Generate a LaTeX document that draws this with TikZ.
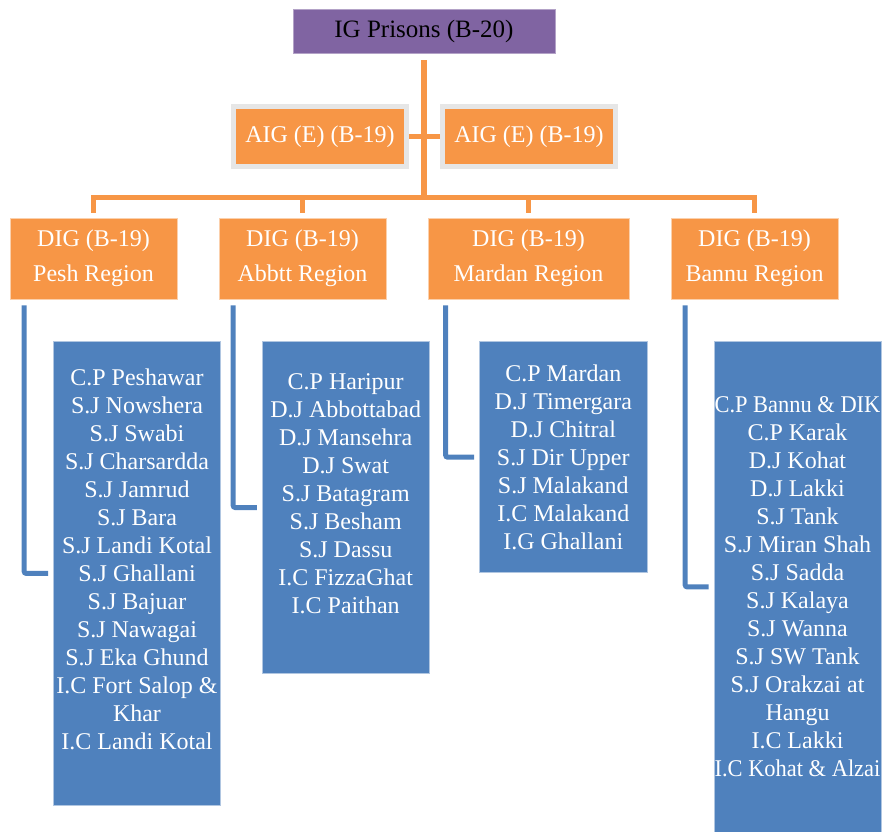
\documentclass[tikz,border=0pt]{standalone}
\usepackage{fontspec}
\setmainfont{Liberation Serif}
\usepackage{graphicx}
\usepackage{tikz}
\usetikzlibrary{
  positioning
}
\definecolor{chiefpurple}{HTML}{8064A2}
\definecolor{deputyorange}{HTML}{F79646}
\definecolor{jailblue}{HTML}{4F81BD}
\definecolor{framegray}{HTML}{E6E6E6}

\begin{document}
\begin{tikzpicture}[
      x=1pt, y=-1pt,
      chief/.style={
         rectangle,
         fill=chiefpurple,
         draw=chiefpurple!60!white, line width=0.6pt,
         minimum width=262pt, minimum height=44pt,
         inner sep=0pt,
         font=\fontsize{25}{30}\selectfont, text=black
      },
      deputy/.style={
         rectangle,
         fill=deputyorange,
         draw=framegray, line width=5pt,
         minimum width=172.7pt, minimum height=59.7pt,
         inner sep=0pt,
         font=\fontsize{24}{28}\selectfont, text=white
      },
      region/.style={
         rectangle,
         fill=deputyorange,
         draw=deputyorange!45!white, line width=0.6pt,
         minimum width=167pt, minimum height=81pt,
         inner sep=0pt, align=center,
         font=\fontsize{24}{35}\selectfont, text=white
      },
      jails/.style={
         rectangle,
         fill=jailblue,
         draw=jailblue!45!white, line width=0.6pt,
         text width=167pt,
         inner sep=0pt, align=flush center,
         font=\fontsize{24}{28}\selectfont, text=white
      },
      link/.style={draw=deputyorange, line width=5.5pt},
      jail link/.style={draw=jailblue, line width=5pt, rounded corners=2pt, shorten >=5pt},
      point/.style={coordinate}
   ]
   \useasboundingbox (0,0) rectangle (883,832);

   \node (ig) [chief] at (424,31.8) {IG Prisons (B-20)};
   \node (aigl) [deputy] at (319.9,136.4) {AIG (E) (B-19)};
   \node (aigr) [deputy] at (528.9,136.4) {AIG (E) (B-19)};

   \node (pesh) [region] at (93.5,258.5) {DIG (B-19)\\Pesh Region};
   \node (abbtt) [region, right=41.4pt of pesh] {DIG (B-19)\\Abbtt Region};
   \node (mardan) [region, minimum width=201pt, right=41.4pt of abbtt] {DIG (B-19)\\Mardan Region};
   \node (bannu) [region, right=41.4pt of mardan] {DIG (B-19)\\Bannu Region};

   \node (peshjails) [jails, minimum height=463.3pt] at (137,573.4) {%
      C.P Peshawar\\ S.J Nowshera\\ S.J Swabi\\ S.J Charsardda\\ S.J Jamrud\\
      S.J Bara\\ S.J Landi Kotal\\ S.J Ghallani\\ S.J Bajuar\\ S.J Nawagai\\
      S.J Eka Ghund\\ \mbox{I.C Fort Salop \&}\\ Khar\\ I.C Landi Kotal\\ \mbox{}};
   \node (abbttjails) [jails, minimum height=331.6pt] at (345.7,507.5) {%
      C.P Haripur\\ D.J Abbottabad\\ D.J Mansehra\\ D.J Swat\\ S.J Batagram\\
      S.J Besham\\ S.J Dassu\\ I.C FizzaGhat\\ I.C Paithan\\ \mbox{}};
   \node (mardanjails) [jails, text width=168pt, minimum height=231pt] at (563.3,457.2) {%
      C.P Mardan\\ D.J Timergara\\ D.J Chitral\\ S.J Dir Upper\\ S.J Malakand\\
      I.C Malakand\\ I.G Ghallani};
   \node (bannujails) [jails, minimum height=490.3pt] at (797.5,586.9) {%
      \scalebox{0.935}[1]{C.P Bannu \& DIK}\\ C.P Karak\\ D.J Kohat\\ D.J Lakki\\ S.J Tank\\
      S.J Miran Shah\\ S.J Sadda\\ S.J Kalaya\\ S.J Wanna\\ S.J SW Tank\\
      S.J Orakzai at\\ Hangu\\ I.C Lakki\\ \scalebox{0.935}[1]{I.C Kohat \& Alzai}};

   \node (bus) [point] at (424,197.5) {};

   \draw[link, shorten <=6pt] (ig) -- (ig |- bus);
   \draw[link] (aigl) -- (aigr);
   \draw[link, line cap=rect] (pesh |- bus) -- (bannu |- bus);
   \foreach \r in {pesh,abbtt,mardan,bannu}
      \draw[link, shorten >=5pt] (\r |- bus) -- (\r);

   \draw[jail link] ([xshift=14.5pt,yshift=-6pt]pesh.south west) |- (peshjails);
   \draw[jail link] ([xshift=14.5pt,yshift=-6pt]abbtt.south west) |- (abbttjails);
   \draw[jail link] ([xshift=18pt,yshift=-6pt]mardan.south west) |- (mardanjails);
   \draw[jail link] ([xshift=14.5pt,yshift=-6pt]bannu.south west) |- (bannujails);
\end{tikzpicture}
\end{document}
